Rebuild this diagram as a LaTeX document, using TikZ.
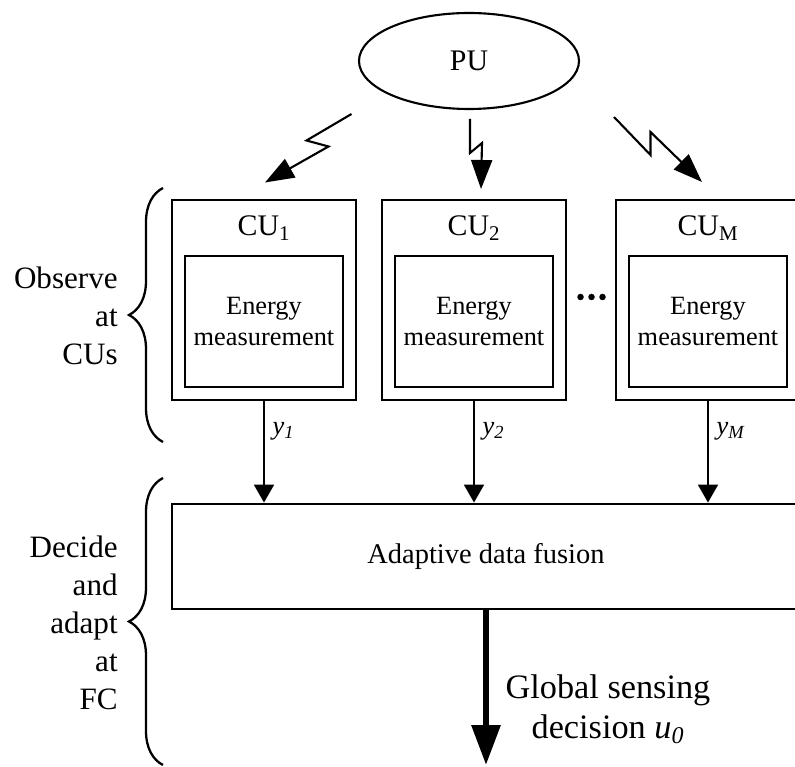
\documentclass[tikz,border=0pt]{standalone}
\usepackage{fontspec}
\setmainfont{Liberation Serif}
\usetikzlibrary{arrows.meta,positioning,shapes.geometric,decorations.pathreplacing}

\begin{document}
\begin{tikzpicture}[
    cubox/.style={rectangle, draw, line width=1.6pt, minimum width=3.68cm,
                  minimum height=4.0cm, inner sep=0pt},
    enbox/.style={rectangle, draw, line width=1.1pt, minimum width=3.16cm,
                  minimum height=2.62cm, align=center, inner sep=0pt,
                  font=\fontsize{15}{17.6}\selectfont},
    cutxt/.style={inner sep=0pt, font=\fontsize{17}{20}\selectfont},
    sidetxt/.style={align=right, anchor=east, inner sep=0pt,
                    font=\fontsize{17.7}{21.6}\selectfont},
    ylab/.style={font=\fontsize{15}{18}\selectfont\itshape},
    arr/.style={-{Triangle[length=0.36cm, width=0.4cm]}, line width=1.1pt},
    bolt/.style={-{Triangle[length=0.58cm, width=0.42cm]}, line width=1.2pt},
    bigarr/.style={-{Triangle[length=0.8cm, width=0.56cm]}, line width=3.5pt},
    brc/.style={decorate, decoration={brace, amplitude=0.68cm}, line width=1.3pt}
  ]
    \useasboundingbox (0,0) rectangle (15.9,15.32);
    \clip (0,0) rectangle (15.9,15.32);

    % Primary user
    \node[ellipse, draw, line width=1.2pt, minimum width=4.4cm, minimum height=1.92cm,
          font=\fontsize{17}{20}\selectfont] (pu) at (9.38, 14.10) {PU};

    % Radio links to the CUs
    \coordinate (b1s) at (7.03, 13.04);
    \coordinate (b1e) at (5.30, 11.67);
    \coordinate (b2s) at (9.40, 12.94);
    \coordinate (b2e) at (9.62, 11.54);
    \coordinate (b3s) at (12.28, 12.98);
    \coordinate (b3e) at (14.04, 11.68);
    \draw[bolt] (b1s) -- ++(-0.90,-0.53) -- ++(0.44,-0.12) -- (b1e);
    \draw[bolt] (b2s) -- ++(0,-0.68) -- ++(0.24,0.20) -- (b2e);
    \draw[bolt] (b3s) -- ++(0.73,-0.76) -- ++(0,0.46) -- (b3e);

    % CU 1
    \node[cubox] (cu1) at (5.28, 9.32) {};
    \node[cutxt] (cu1t) at (5.28, 10.76) {CU\textsubscript{1}};
    \node[enbox] (en1) at (5.28, 8.89) {Energy\\measurement};

    % CU 2
    \node[cubox] (cu2) at (9.48, 9.32) {};
    \node[cutxt] (cu2t) at (9.48, 10.76) {CU\textsubscript{2}};
    \node[enbox] (en2) at (9.48, 8.89) {Energy\\measurement};

    % CU M
    \node[cubox] (cum) at (14.16, 9.32) {};
    \node[cutxt] (cumt) at (14.16, 10.76) {CU\textsubscript{M}};
    \node[enbox] (enm) at (14.16, 8.89) {Energy\\measurement};

    \foreach \x in {11.61,11.83,12.05}
      \fill (\x, 9.38) circle (0.065);

    % Fusion centre
    \node[rectangle, draw, line width=1.6pt, minimum width=12.56cm, minimum height=2.1cm,
          font=\fontsize{16.2}{19}\selectfont] (fus) at (9.72, 4.19) {Adaptive data fusion};

    \draw[arr] (cu1.south) -- node[ylab, pos=0.3, right=1pt] {y\textsubscript{1}} (cu1.south |- fus.north);
    \draw[arr] (cu2.south) -- node[ylab, pos=0.3, right=1pt] {y\textsubscript{2}} (cu2.south |- fus.north);
    \draw[arr] (cum.south) -- node[ylab, pos=0.3, right=1pt] {y\textsubscript{M}} (cum.south |- fus.north);

    % Global decision
    \coordinate (dec) at (9.72, 0.02);
    \draw[bigarr] (fus.south) -- (dec);
    \node[align=center, font=\fontsize{19.5}{22.8}\selectfont] (gsd) at (12.16, 1.14)
      {Global sensing\\decision \textit{u}\textsubscript{\textit{0}}};

    % Braces and stage labels
    \coordinate (o1) at (3.26, 6.48);
    \coordinate (o2) at (3.26, 11.56);
    \coordinate (d1) at (3.26, 0.02);
    \coordinate (d2) at (3.26, 5.76);
    \draw[brc] (o1) -- (o2);
    \draw[brc] (d1) -- (d2);
    \node[sidetxt] (obs) at (2.36, 9.0) {Observe\\at\\CUs};
    \node[sidetxt] (dcd) at (2.36, 2.86) {Decide\\and\\adapt\\at\\FC};
  \end{tikzpicture}
\end{document}
